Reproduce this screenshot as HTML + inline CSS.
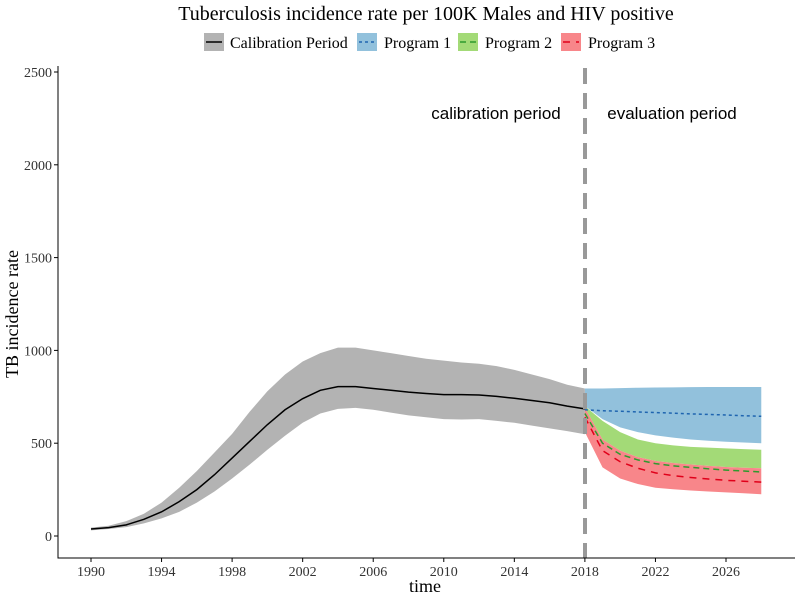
<!DOCTYPE html>
<html><head><meta charset="utf-8"><style>
body{margin:0;background:#fff;}
svg text{font-family:"Liberation Serif",serif;}
</style></head><body>
<svg id="c" width="800" height="600" xmlns="http://www.w3.org/2000/svg"></svg>
<script>
const calYears=[1990,1991,1992,1993,1994,1995,1996,1997,1998,1999,2000,2001,2002,2003,2004,2005,2006,2007,2008,2009,2010,2011,2012,2013,2014,2015,2016,2017,2018];
const calMean=[38,45,60,90,130,185,250,330,420,510,600,680,740,785,805,805,795,785,775,768,762,762,760,752,742,730,718,700,685];
const calUpper=[45,55,80,120,180,260,350,450,550,670,780,870,940,985,1015,1015,1000,985,970,955,945,935,928,915,895,870,845,815,795];
const calLower=[30,38,48,68,95,130,180,240,310,385,465,540,610,660,685,690,680,665,650,640,630,628,630,620,610,595,580,565,548];
const progYears=[2018,2019,2020,2021,2022,2023,2024,2025,2026,2027,2028];
const p1Mean=[680,675,672,668,665,662,658,655,652,648,645];
const p1Upper=[795,795,797,799,800,801,802,803,803,803,803];
const p1Lower=[700,630,585,560,542,530,520,513,508,504,500];
const p2Mean=[660,500,440,410,390,378,370,362,355,350,345];
const p2Upper=[700,620,560,520,500,488,480,476,472,468,465];
const p2Lower=[690,520,460,425,405,393,385,378,372,368,365];
const p3Mean=[640,460,400,365,340,325,315,307,300,295,290];
const p3Upper=[690,520,460,425,405,393,385,378,372,368,365];
const p3Lower=[560,370,310,280,260,252,245,240,235,230,225];
const xTicks=[1990,1994,1998,2002,2006,2010,2014,2018,2022,2026];
const yTicks=[0,500,1000,1500,2000,2500];

const svg=document.getElementById('c');const NS='http://www.w3.org/2000/svg';
const X=v=>91+(v-1990)*(635/36);
const Y=v=>536-v*(464/2500);
function mk(t,a,p){const e=document.createElementNS(NS,t);for(const k in a)e.setAttribute(k,a[k]);(p||svg).appendChild(e);return e;}
function band(xs,up,lo,fill,name){
 let d='M'+xs.map((x,i)=>X(x)+','+Y(up[i])).join('L');
 for(let i=xs.length-1;i>=0;i--)d+='L'+X(xs[i])+','+Y(lo[i]);
 const e=mk('path',{d:d+'Z',fill:fill});
 
 
}
function line(xs,ys,col,dash,name){
 const e=mk('path',{d:'M'+xs.map((x,i)=>X(x)+','+Y(ys[i])).join('L'),fill:'none',stroke:col,'stroke-width':1.5,'stroke-dasharray':dash});
 
 
}
band(calYears,calUpper,calLower,'#b3b3b3','calibration-band');
band(progYears,p1Upper,p1Lower,'#92c1dc','program-1-band');
band(progYears,p2Upper,p2Lower,'#a3da77','program-2-band');
band(progYears,p3Upper,p3Lower,'#f8868a','program-3-band');
line(calYears,calMean,'#000','none','calibration-line');
line(progYears,p1Mean,'#1f65b0','3,3','program-1-line');
line(progYears,p2Mean,'#2e9a2e','6,4','program-2-line');
line(progYears,p3Mean,'#e0001a','7,6','program-3-line');
let v=mk('line',{x1:585,x2:585,y1:68,y2:558,stroke:'#999','stroke-width':4,'stroke-dasharray':'16,9'});

let ax=mk('path',{d:'M58,66V558H795',fill:'none',stroke:'#000','stroke-width':1});

xTicks.forEach(t=>{mk('line',{x1:X(t),x2:X(t),y1:558,y2:562,stroke:'#000'});
 const e=mk('text',{x:X(t),y:576,'text-anchor':'middle','font-size':14,fill:'#333'});e.textContent=t;
 });
yTicks.forEach(t=>{mk('line',{x1:54,x2:58,y1:Y(t),y2:Y(t),stroke:'#000'});
 const e=mk('text',{x:52,y:Y(t)+5,'text-anchor':'end','font-size':14,fill:'#333'});e.textContent=t;
 });
</script>
<svg width="800" height="600" style="position:absolute;left:0;top:0" xmlns="http://www.w3.org/2000/svg">
<text x="426" y="20" text-anchor="middle" font-size="20">Tuberculosis incidence rate per 100K Males and HIV positive</text>
<g font-size="16">
<rect x="204" y="33" width="20" height="18" fill="#b3b3b3"/><line x1="206" x2="222" y1="42" y2="42" stroke="#000" stroke-width="1.5"/>
<text x="230" y="48">Calibration Period</text>
<rect x="357" y="33" width="20" height="18" fill="#92c1dc"/><line x1="359" x2="375" y1="42" y2="42" stroke="#1f65b0" stroke-width="1.5" stroke-dasharray="3,3"/>
<text x="384" y="48">Program 1</text>
<rect x="458" y="33" width="20" height="18" fill="#a3da77"/><line x1="460" x2="476" y1="42" y2="42" stroke="#2e9a2e" stroke-width="1.5" stroke-dasharray="6,4"/>
<text x="485" y="48">Program 2</text>
<rect x="561" y="33" width="20" height="18" fill="#f8868a"/><line x1="563" x2="579" y1="42" y2="42" stroke="#e0001a" stroke-width="1.5" stroke-dasharray="7,6"/>
<text x="588" y="48">Program 3</text>
</g>
<text x="496" y="119" text-anchor="middle" font-size="17" style="font-family:'Liberation Sans',sans-serif">calibration period</text>
<text x="672" y="119" text-anchor="middle" font-size="17" style="font-family:'Liberation Sans',sans-serif">evaluation period</text>
<text x="425" y="592" text-anchor="middle" font-size="18">time</text>
<text transform="translate(18,314) rotate(-90)" text-anchor="middle" font-size="18">TB incidence rate</text>
</svg>
</body></html>
